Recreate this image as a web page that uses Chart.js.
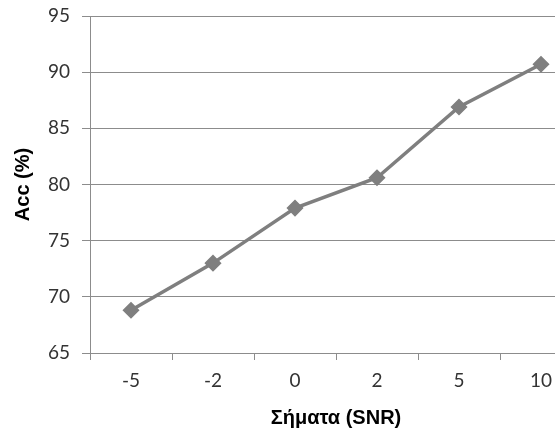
<!DOCTYPE html>
<html>
<head>
<meta charset="utf-8">
<script src="https://cdn.jsdelivr.net/npm/chart.js@4/dist/chart.umd.min.js"></script>
<style>
  html, body { margin: 0; padding: 0; background: #ffffff; overflow: hidden; }
  #wrap { width: 555px; height: 439px; overflow: hidden; }
  canvas { display: block; }
</style>
</head>
<body>
<div id="wrap">
  <canvas id="chart_accPerSnr" width="591" height="439"></canvas>
</div>
<script>
// SNR categories and accuracy per category
var snrLabels = ['-5', '-2', '0', '2', '5', '10'];
var accValues = [68.8, 73.0, 77.9, 80.6, 86.9, 90.7];

var lineGray = '#7f7f7f';
var gridGray = '#8c8c8c';
var tickFont = { family: 'Lato, "Open Sans", sans-serif', size: 19, lineHeight: 1.2 };
var titleFont = { family: '"Liberation Sans", Arial, sans-serif', size: 20, weight: 'bold', lineHeight: 1.2 };

var chart_accPerSnr = new Chart(document.getElementById('chart_accPerSnr'), {
    type: 'line',
    data: {
        labels: snrLabels,
        datasets: [
            {
                label: 'Acc',
                data: accValues,
                borderColor: lineGray,
                backgroundColor: lineGray,
                borderWidth: 3.5,
                tension: 0,
                pointStyle: 'rectRot',
                pointRadius: 7.5,
                pointBorderWidth: 1.5,
                pointBackgroundColor: lineGray,
                pointBorderColor: lineGray
            }
        ]
    },
    options: {
        animation: false,
        responsive: false,
        layout: {
            padding: { top: 16, left: 0, right: 1, bottom: 0 }
        },
        plugins: {
            legend: { display: false },
            tooltip: { enabled: false }
        },
        scales: {
            x: {
                type: 'category',
                offset: true,
                grid: {
                    offset: true,
                    drawOnChartArea: false,
                    drawTicks: true,
                    tickLength: 7,
                    color: gridGray
                },
                border: { display: true, color: gridGray, width: 1 },
                ticks: {
                    color: '#333333',
                    font: tickFont,
                    padding: 9,
                    maxRotation: 0
                },
                title: {
                    display: true,
                    text: 'Σήματα (SNR)',
                    color: '#000000',
                    font: titleFont,
                    padding: { top: 0, bottom: 9 }
                },
                afterFit: function(scale) {
                    scale.height = 86;
                }
            },
            y: {
                min: 65,
                max: 95,
                ticks: {
                    stepSize: 5,
                    color: '#333333',
                    font: tickFont,
                    padding: 12
                },
                grid: {
                    color: gridGray,
                    tickLength: 8
                },
                border: { display: true, color: gridGray, width: 1 },
                title: {
                    display: true,
                    text: 'Acc (%)',
                    color: '#000000',
                    font: titleFont,
                    padding: { top: 11, bottom: 0 }
                },
                afterFit: function(scale) {
                    // fixed axis width; let the top label hang into the layout padding
                    scale.width = 90;
                    scale.paddingTop = 0;
                    scale.paddingBottom = 0;
                }
            }
        }
    },
    plugins: [{
        id: 'whiteBackground',
        beforeDraw: (chart) => {
            const ctx = chart.canvas.getContext('2d');
            ctx.save();
            ctx.globalCompositeOperation = 'destination-over';
            ctx.fillStyle = 'white';
            ctx.fillRect(0, 0, chart.canvas.width, chart.canvas.height);
            ctx.restore();
        }
    }]
});
</script>
</body>
</html>
